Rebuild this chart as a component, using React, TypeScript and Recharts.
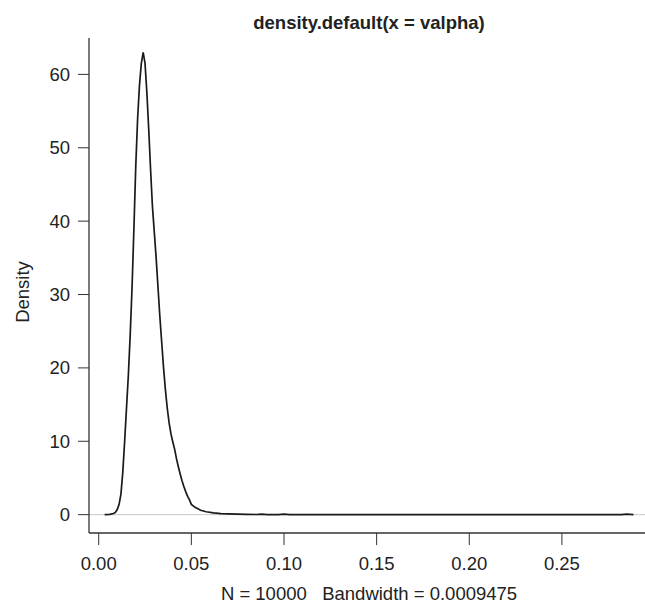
import React from 'react';
import { LineChart, Line, XAxis, YAxis, ReferenceLine } from 'recharts';

// density estimate of valpha
const densityX = [
 0.0032, 0.006, 0.008, 0.009, 0.01, 0.011, 0.012, 0.013, 0.014, 0.015,
 0.016, 0.017, 0.018, 0.019, 0.02, 0.021, 0.022, 0.023, 0.024, 0.025,
 0.026, 0.027, 0.028, 0.029, 0.03, 0.031, 0.032, 0.033, 0.034, 0.035,
 0.036, 0.037, 0.038, 0.039, 0.04, 0.041, 0.042, 0.043, 0.044, 0.045,
 0.046, 0.047, 0.048, 0.049, 0.05, 0.052, 0.055, 0.058, 0.062, 0.066,
 0.07, 0.075, 0.08, 0.085, 0.088, 0.091, 0.097, 0.1, 0.103, 0.12,
 0.15, 0.2, 0.25, 0.282, 0.285, 0.2886,
];
const densityY = [
 0, 0.05, 0.15, 0.3, 0.7, 1.4, 2.8, 5.8, 10.0, 14.5,
 19.0, 24.5, 31.0, 39.0, 47.5, 54.0, 58.5, 61.5, 63.0, 61.5,
 57.5, 52.5, 47.0, 42.0, 38.5, 35.0, 31.0, 27.0, 23.5, 20.0,
 17.0, 14.5, 12.5, 11.0, 9.9, 8.9, 7.6, 6.5, 5.5, 4.6,
 3.8, 3.1, 2.5, 2.0, 1.4, 1.0, 0.6, 0.4, 0.25, 0.15,
 0.1, 0.06, 0.04, 0.02, 0.08, 0.01, 0.01, 0.06, 0.01, 0,
 0, 0, 0, 0, 0.07, 0,
];
const xTicks = [0, 0.05, 0.1, 0.15, 0.2, 0.25];
const yTicks = [0, 10, 20, 30, 40, 50, 60];

const title = 'density.default(x = valpha)';
// R pads the subtitle with three spaces; keep them from collapsing
const subtitle = 'N = 10000\u00A0\u00A0\u00A0Bandwidth = 0.0009475';
const yLabel = 'Density';

const data = densityX.map((x, i) => ({ x, density: densityY[i] }));

const FONT = '"Liberation Sans", Arial, Helvetica, sans-serif';
const INK = '#222';
const BOX = '#333';

export default function App() {
 return (
 <div style={{ position: 'absolute', left: 0, top: 0, width: 645, height: 606, overflow: 'hidden', background: '#fff' }}>
 <LineChart
 width={650}
 height={606}
 data={data}
 margin={{ top: 38, right: 1, bottom: 0, left: 0 }}
 >
 <XAxis
 xAxisId="top"
 orientation="top"
 type="number"
 dataKey="x"
 domain={[-0.00524, 0.297]}
 allowDataOverflow
 height={0}
 tick={false}
 tickLine={false}
 axisLine={{ stroke: BOX, strokeWidth: 1.3 }}
 />
 <XAxis
 type="number"
 dataKey="x"
 domain={[-0.00524, 0.297]}
 allowDataOverflow
 ticks={xTicks}
 tickFormatter={(v: number) => v.toFixed(2)}
 height={73}
 tickSize={12}
 tickMargin={12}
 tick={{ fontSize: 18.5, fill: INK, fontFamily: FONT }}
 tickLine={{ stroke: BOX }}
 axisLine={{ stroke: BOX, strokeWidth: 1.3 }}
 />
 <YAxis
 type="number"
 domain={[-2.5, 64.96]}
 allowDataOverflow
 ticks={yTicks}
 width={89}
 tickSize={11}
 tickMargin={8}
 tick={{ fontSize: 18.5, fill: INK, fontFamily: FONT }}
 tickLine={{ stroke: BOX }}
 axisLine={{ stroke: BOX, strokeWidth: 1.3 }}
 />
 <ReferenceLine y={0} stroke="#c8c8c8" strokeWidth={1} />
 <Line
 type="linear"
 dataKey="density"
 stroke="#1a1a1a"
 strokeWidth={1.7}
 dot={false}
 isAnimationActive={false}
 />
 </LineChart>
 <svg
 width={645}
 height={606}
 style={{ position: 'absolute', left: 0, top: 0, pointerEvents: 'none' }}
 >
 <text x={369} y={28.5} textAnchor="middle" fontFamily={FONT} fontSize={18.5} fontWeight="bold" fill={INK}>
 {title}
 </text>
 <text x={369} y={600} textAnchor="middle" fontFamily={FONT} fontSize={18.5} fill={INK}>
 {subtitle}
 </text>
 <text
 x={28.5}
 y={292}
 textAnchor="middle"
 transform="rotate(-90, 28.5, 292)"
 fontFamily={FONT}
 fontSize={18.5}
 fill={INK}
 >
 {yLabel}
 </text>
 </svg>
 </div>
 );
}
